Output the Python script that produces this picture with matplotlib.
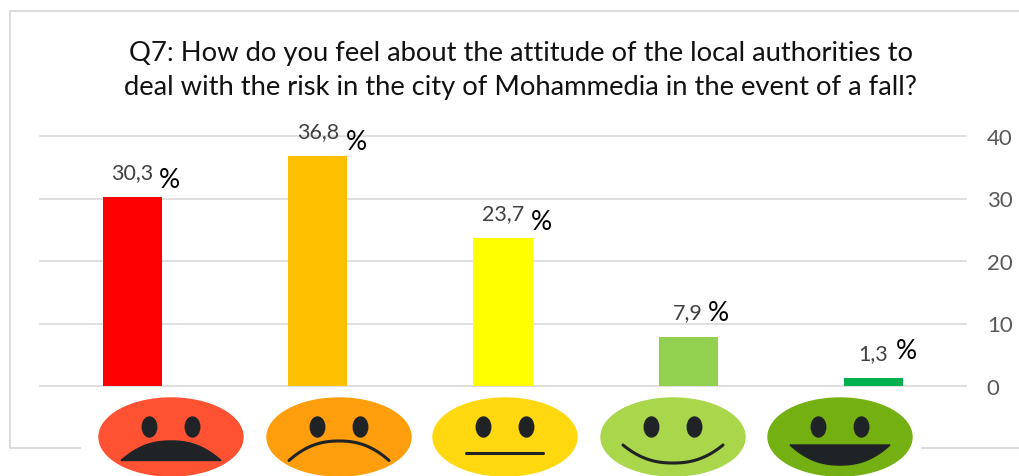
import numpy as np
import matplotlib
matplotlib.use("Agg")
import matplotlib.pyplot as plt
from matplotlib.patches import Ellipse, Polygon

plt.rcParams['font.family'] = ['Lato', 'DejaVu Sans']

title = "Q7: How do you feel about the attitude of the local authorities to\ndeal with the risk in the city of Mohammedia in the event of a fall?"
values = [30.3, 36.8, 23.7, 7.9, 1.3]
value_labels = ["30,3", "36,8", "23,7", "7,9", "1,3"]
bar_colors = ["#ff0000", "#ffc000", "#ffff00", "#92d050", "#00b050"]
y_ticks = [0, 10, 20, 30, 40]
face_colors = ["#ff5233", "#ff9e0d", "#ffd80f", "#a9d64b", "#74b012"]
# mouth shape of each face: curve from -1 (sad) to 1 (happy), filled or only a line
mouth_curve = [-1, -1, 0, 1, 1]
mouth_filled = [True, False, False, False, True]
face_x = [171, 339, 505, 673, 840]
# where the separate % text boxes sit relative to the bar top, in pixels
pct_dx = [37, 39, 38, 30, 33]
pct_dy = [17, 15, 16, 24, 27]

W, H = 1019, 477
fig = plt.figure(figsize=(W / 100, H / 100), dpi=100)

# pixel overlay for the frame and the faces
bg = fig.add_axes([0, 0, 1, 1])
bg.set_xlim(0, W)
bg.set_ylim(H, 0)
bg.axis("off")
frame = "#d9d9d9"
bg.plot([1019, 10.5, 10.5, 80], [12, 12, 449, 449], color=frame, lw=1.3)
bg.plot([922, 1019], [449, 449], color=frame, lw=1.3)

# chart axes, placed so that 0 and 40 fall on the reference pixels
left, right = 40, 966
top, bottom = 137, 387
ax = fig.add_axes([left / W, 1 - bottom / H, (right - left) / W, (bottom - top) / H])
ax.patch.set_alpha(0)
x = np.arange(len(values))
ax.bar(x, values, width=0.32, color=bar_colors, zorder=3)
ax.set_xlim(-0.5, 4.5)
ax.set_ylim(0, 40)
ax.set_xticks([])
ax.set_yticks(y_ticks)
ax.yaxis.tick_right()
ax.tick_params(axis="y", length=0, pad=15, labelsize=16, labelcolor="#595959")
ax.grid(axis="y", color="#d9d9d9", lw=1.2, zorder=0, clip_on=False)
ax.set_axisbelow(True)
for s in ax.spines.values():
    s.set_visible(False)

for i, v in enumerate(values):
    ax.annotate(value_labels[i], (i, v), xytext=(0, 25), textcoords="offset pixels",
                ha="center", va="center", fontsize=15.5, color="#404040", zorder=5)
    ax.annotate("%", (i, v), xytext=(pct_dx[i], pct_dy[i]), textcoords="offset pixels",
                ha="center", va="center", fontsize=19, color="black", zorder=5)

fig.text(521 / W, 1 - 70.5 / H, title, ha="center", va="center", fontsize=19.7,
         color="#111111", linespacing=1.4)

# faces
ink = "#1f2326"
for cx, col, curve, filled in zip(face_x, face_colors, mouth_curve, mouth_filled):
    bg.add_patch(Ellipse((cx, 438), 144, 78, color=col, zorder=4, clip_on=False))
    for dx in (-21.5, 21.5):
        bg.add_patch(Ellipse((cx + dx, 428), 14.5, 20, color=ink, zorder=5))
    t = np.linspace(-1, 1, 80)
    mx = cx + (50 if curve else 38.5) * t
    arc = 1 - np.abs(t) ** 2.3
    if curve == 0:
        my = np.full_like(mx, 453.5)
    elif curve < 0:
        my = 461.5 - 19.5 * arc
    else:
        my = 446 + (20 if filled else 18) * arc
    if filled:
        bg.add_patch(Polygon(np.column_stack([mx, my]), color=ink, zorder=5))
    else:
        bg.plot(mx, my, color=ink, lw=2.2, zorder=5, solid_capstyle="round")

fig.savefig("out.png", dpi=100)
